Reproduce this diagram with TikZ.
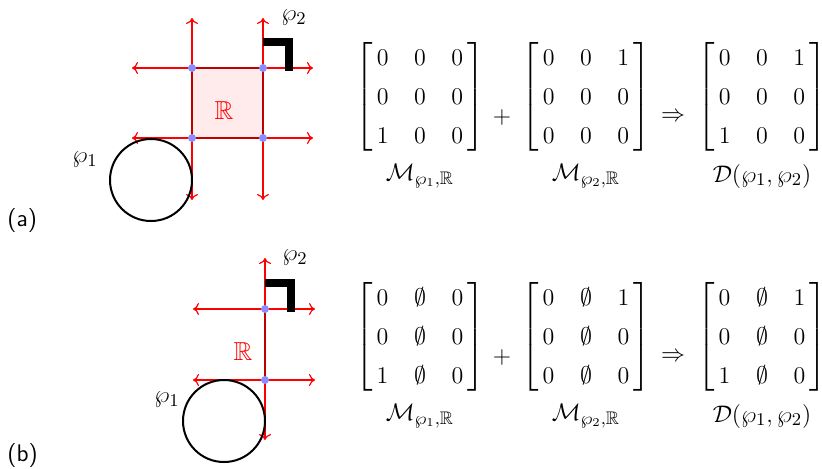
\documentclass[tikz,border=0pt]{standalone}
\usepackage{amsmath, amssymb}
\usepackage{tikz}
\usetikzlibrary{arrows.meta}

\begin{document}
\begin{tikzpicture}[x=0.5pt, y=-0.5pt, >={To[length=3pt, width=6pt]},
  axis/.style={<->, red, line width=0.6pt},
  edge/.style={red!75!black, line width=1pt},
  vertex/.style={fill=blue!45},
  corner/.style={line width=4pt},
  loop/.style={line width=1pt},
  lab/.style={font=\fontsize{13}{16}\selectfont, inner sep=1pt},
  rlab/.style={font=\fontsize{13}{16}\selectfont, text=red, inner sep=1pt},
  mat/.style={font=\fontsize{13}{16}\selectfont, inner sep=0pt},
  panel/.style={font=\sffamily\large, anchor=west, inner sep=0pt}]
\useasboundingbox (0,0) rectangle (822,468);
\renewcommand{\arraystretch}{1.22}
\setlength{\arraycolsep}{6.4pt}

% (a): two lines each way, the region R between them
\coordinate (a11) at (192,68);
\coordinate (a12) at (263,68);
\coordinate (a21) at (192,138);
\coordinate (a22) at (263,138);
\fill[red!8] (a11) rectangle (a22);
\foreach \x in {192,263} \draw[axis] (\x,18) -- (\x,200);
\foreach \y in {68,138} \draw[axis] (132,\y) -- (313,\y);
\draw[edge] (a11) rectangle (a22);
\foreach \p in {a11,a12,a21,a22} \fill[vertex] (\p) circle (4);
\draw[loop] (151,180) circle (41);
\draw[corner] (263,42) -- (289,42) -- (289,71);
\node[lab] (pa1) at (85,160) {$\wp_1$};
\node[lab] (pa2) at (294,18) {$\wp_2$};
\node[rlab] (ra) at (224,111) {$\mathbb{R}$};
\node[panel] (pa) at (7,220) {(a)};

% (b): one vertical line, R collapses to a segment
\coordinate (b1) at (265,309);
\coordinate (b2) at (265,380);
\draw[axis] (265,258) -- (265,440);
\foreach \y in {309,380} \draw[axis] (193,\y) -- (315,\y);
\draw[edge] (b1) -- (b2);
\foreach \p in {b1,b2} \fill[vertex] (\p) circle (4);
\draw[loop] (224,421) circle (41);
\draw[corner] (265,283) -- (291,283) -- (291,312);
\node[lab] (pb1) at (167,400) {$\wp_1$};
\node[lab] (pb2) at (295,258) {$\wp_2$};
\node[rlab] (rb) at (243,352) {$\mathbb{R}$};
\node[panel] (pb) at (7,455) {(b)};

% matrices for (a)
\node[mat] (ma1) at (420,97) {$\begin{bmatrix}\,0&0&0\,\\\,0&0&0\,\\\,1&0&0\,\end{bmatrix}$};
\node[mat] (ma2) at (586,97) {$\begin{bmatrix}\,0&0&1\,\\\,0&0&0\,\\\,0&0&0\,\end{bmatrix}$};
\node[mat] (ma3) at (762,97) {$\begin{bmatrix}\,0&0&1\,\\\,0&0&0\,\\\,1&0&0\,\end{bmatrix}$};
\node[mat] (plusa) at (502,117) {$+$};
\node[mat] (impa) at (673,117) {$\Rightarrow$};
\node[mat] (la1) at (420,176) {$\mathcal{M}_{\wp_1,\mathbb{R}}$};
\node[mat] (la2) at (586,176) {$\mathcal{M}_{\wp_2,\mathbb{R}}$};
\node[mat] (la3) at (762,176) {$\mathcal{D}(\wp_1,\wp_2)$};

% matrices for (b)
\node[mat] (mb1) at (420,337) {$\begin{bmatrix}\,0&\emptyset&0\,\\\,0&\emptyset&0\,\\\,1&\emptyset&0\,\end{bmatrix}$};
\node[mat] (mb2) at (586,337) {$\begin{bmatrix}\,0&\emptyset&1\,\\\,0&\emptyset&0\,\\\,0&\emptyset&0\,\end{bmatrix}$};
\node[mat] (mb3) at (762,337) {$\begin{bmatrix}\,0&\emptyset&1\,\\\,0&\emptyset&0\,\\\,1&\emptyset&0\,\end{bmatrix}$};
\node[mat] (plusb) at (502,357) {$+$};
\node[mat] (impb) at (673,357) {$\Rightarrow$};
\node[mat] (lb1) at (420,416) {$\mathcal{M}_{\wp_1,\mathbb{R}}$};
\node[mat] (lb2) at (586,416) {$\mathcal{M}_{\wp_2,\mathbb{R}}$};
\node[mat] (lb3) at (762,416) {$\mathcal{D}(\wp_1,\wp_2)$};
\end{tikzpicture}
\end{document}
